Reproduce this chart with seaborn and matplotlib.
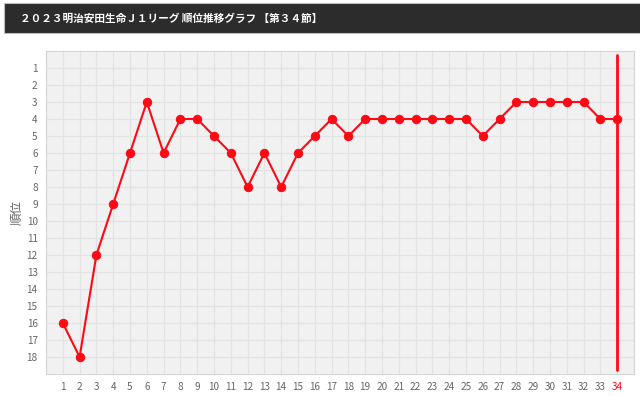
"""J1 league standings chart (2023, matchday 34)."""

import matplotlib.pyplot as plt
import seaborn as sns
import pandas as pd
from matplotlib.patches import Rectangle

rounds = list(range(1, 35))
ranks = [16, 18, 12, 9, 6, 3, 6, 4, 4, 5, 6, 8, 6, 8, 6, 5, 4, 5,
         4, 4, 4, 4, 4, 4, 4, 5, 4, 3, 3, 3, 3, 3, 4, 4]
rank_ticks = list(range(1, 19))
title = "２０２３明治安田生命Ｊ１リーグ 順位推移グラフ 【第３４節】"
ylabel = "順位"

RED = "#ff0a14"
GRID = "#e3e3e3"
TXT = "#666666"

sns.set_style("whitegrid")
plt.rcParams["font.family"] = ["Noto Sans CJK JP", "DejaVu Sans"]

df = pd.DataFrame({"round": rounds, "rank": ranks})

fig = plt.figure(figsize=(6.4, 3.96), dpi=100)
fig.patch.set_facecolor("white")

# dark title bar
fig.patches.append(Rectangle((4 / 640, 1 - 33 / 396), 1, 30 / 396,
                             transform=fig.transFigure, facecolor="#2c2c2c",
                             edgecolor="#bbbbbb", linewidth=0.8, zorder=0))
fig.text(20 / 640, 1 - 18.5 / 396, title, color="white", fontsize=7.7,
         fontweight="bold", va="center", ha="left")

ax = fig.add_axes([46 / 640, 1 - 374 / 396, 588 / 640, 323 / 396])
ax.set_facecolor("#f1f1f1")

sns.lineplot(data=df, x="round", y="rank", ax=ax, color=RED, linewidth=1.5,
             marker="o", markersize=6, markeredgecolor=RED, zorder=3)

# current matchday marker
ax.axvline(rounds[-1], ymin=0.012, ymax=0.988, color=RED, linewidth=2, zorder=2)

ax.set_xlim(0, 35)
ax.set_ylim(19, 0)
ax.set_xticks(rounds)
ax.set_yticks(rank_ticks)
ax.grid(True, color=GRID, linewidth=0.9)
ax.set_axisbelow(True)

for side in ["top", "right", "left", "bottom"]:
    ax.spines[side].set_color("#d4d4d4")
    ax.spines[side].set_linewidth(0.8)

ax.tick_params(axis="both", labelsize=7.2, colors="#d4d4d4", labelcolor=TXT,
               length=0, pad=6)
ax.get_xticklabels()[-1].set_color(RED)

ax.set_xlabel("")
ax.set_ylabel(ylabel, color=TXT, fontsize=9, labelpad=2)

fig.savefig("out.png", dpi=100)
